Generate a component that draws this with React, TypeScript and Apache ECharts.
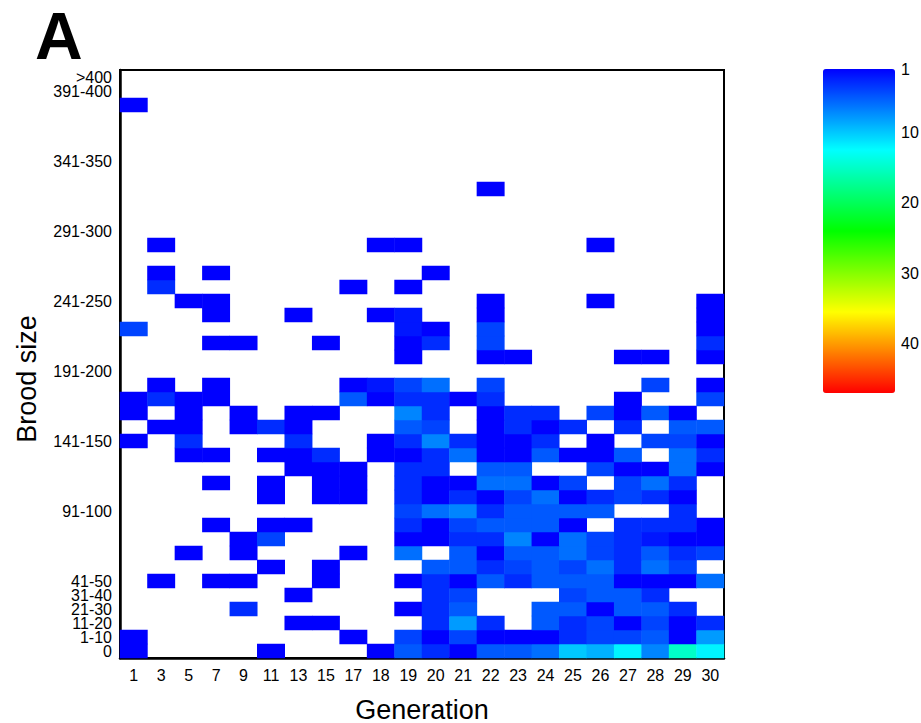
import React, { useEffect, useRef } from 'react';
import * as echarts from 'echarts';

// X categories (generations)
const generations = ['1', '3', '5', '7', '9', '11', '13', '15', '17', '18', '19', '20', '21', '22', '23', '24', '25', '26', '27', '28', '29', '30'];

// Y categories (brood size bins)
const broodBins: string[] = ['0'];
for (let i = 1; i <= 40; i++) broodBins.push(`${10 * (i - 1) + 1}-${10 * i}`);
broodBins.push('>400');
// labelled bins, split in two interleaved sets so that neighbouring labels never share an axis
const labelledBinsA = ['0', '11-20', '31-40', '91-100', '191-200', '291-300', '341-350', '>400'];
const labelledBinsB = ['1-10', '21-30', '41-50', '141-150', '241-250', '391-400'];

// colour-scale tick labels
const scaleTicks = [1, 10, 20, 30, 40];
const scaleMin = 1;
const scaleMax = 47;

// counts per brood-size bin: [generation, count]
const bin0 = [['1', 1], ['11', 1], ['18', 1], ['19', 5], ['20', 3], ['21', 1], ['22', 5], ['23', 5], ['24', 6], ['25', 10], ['26', 9], ['27', 12], ['28', 7], ['29', 15], ['30', 12]];
const bin1_10 = [['1', 1], ['17', 1], ['19', 4], ['20', 1], ['21', 4], ['22', 1], ['23', 1], ['24', 1], ['25', 3], ['26', 4], ['27', 4], ['28', 5], ['29', 1], ['30', 8]];
const bin11_20 = [['13', 1], ['15', 1], ['20', 3], ['21', 8], ['22', 3], ['24', 5], ['25', 3], ['26', 4], ['27', 1], ['28', 4], ['29', 1], ['30', 3]];
const bin21_30 = [['9', 3], ['19', 1], ['20', 3], ['21', 5], ['24', 5], ['25', 5], ['26', 1], ['27', 5], ['28', 5], ['29', 3]];
const bin31_40 = [['13', 1], ['20', 3], ['21', 4], ['25', 4], ['26', 5], ['27', 5], ['28', 3]];
const bin41_50 = [['3', 1], ['7', 1], ['9', 1], ['15', 1], ['19', 1], ['20', 3], ['21', 1], ['22', 5], ['23', 3], ['24', 5], ['25', 5], ['26', 5], ['27', 1], ['28', 1], ['29', 1], ['30', 6]];
const bin51_60 = [['11', 1], ['15', 1], ['20', 5], ['21', 5], ['22', 3], ['23', 4], ['24', 5], ['25', 4], ['26', 6], ['27', 3], ['28', 6], ['29', 4]];
const bin61_70 = [['5', 1], ['9', 1], ['17', 1], ['19', 6], ['21', 5], ['22', 1], ['23', 5], ['24', 5], ['25', 6], ['26', 4], ['27', 3], ['28', 5], ['29', 3], ['30', 4]];
const bin71_80 = [['9', 1], ['11', 4], ['19', 1], ['20', 1], ['21', 3], ['22', 3], ['23', 7], ['24', 1], ['25', 6], ['26', 4], ['27', 3], ['28', 2], ['29', 1], ['30', 1]];
const bin81_90 = [['7', 1], ['11', 1], ['13', 1], ['19', 3], ['20', 1], ['21', 4], ['22', 5], ['23', 5], ['24', 5], ['25', 1], ['27', 3], ['28', 3], ['29', 3], ['30', 1]];
const bin91_100 = [['19', 4], ['20', 6], ['21', 7], ['22', 3], ['23', 5], ['24', 5], ['25', 5], ['26', 5], ['29', 3]];
const bin101_110 = [['11', 1], ['15', 1], ['17', 1], ['19', 3], ['20', 1], ['21', 3], ['22', 1], ['23', 4], ['24', 6], ['25', 1], ['26', 3], ['27', 4], ['28', 3], ['29', 1]];
const bin111_120 = [['7', 1], ['11', 1], ['15', 1], ['17', 1], ['19', 3], ['20', 1], ['21', 1], ['22', 6], ['23', 6], ['24', 1], ['25', 4], ['27', 4], ['28', 6], ['29', 3]];
const bin121_130 = [['13', 1], ['15', 1], ['17', 1], ['19', 3], ['20', 3], ['22', 5], ['23', 5], ['26', 4], ['27', 1], ['28', 1], ['29', 6], ['30', 1]];
const bin131_140 = [['5', 1], ['7', 1], ['11', 1], ['13', 1], ['15', 3], ['18', 1], ['19', 1], ['20', 3], ['21', 6], ['22', 1], ['23', 1], ['24', 5], ['25', 1], ['26', 1], ['27', 5], ['29', 6], ['30', 3]];
const bin141_150 = [['1', 1], ['5', 3], ['13', 3], ['18', 1], ['19', 3], ['20', 7], ['21', 3], ['22', 1], ['23', 1], ['24', 3], ['26', 1], ['28', 4], ['29', 4], ['30', 1]];
const bin151_160 = [['3', 1], ['5', 1], ['9', 1], ['11', 3], ['13', 1], ['19', 5], ['20', 4], ['22', 1], ['23', 3], ['24', 1], ['25', 3], ['27', 3], ['29', 5], ['30', 5]];
const bin161_170 = [['1', 1], ['5', 1], ['9', 1], ['13', 1], ['15', 1], ['19', 7], ['20', 3], ['22', 1], ['23', 3], ['24', 3], ['26', 4], ['27', 1], ['28', 5], ['29', 1]];
const bin171_180 = [['1', 1], ['3', 3], ['5', 1], ['7', 1], ['17', 5], ['18', 1], ['19', 3], ['20', 3], ['21', 1], ['22', 3], ['27', 1], ['30', 4]];
const bin181_190 = [['3', 1], ['7', 1], ['17', 1], ['18', 2], ['19', 4], ['20', 6], ['22', 4], ['28', 4], ['30', 1]];
const bin201_210 = [['19', 1], ['22', 1], ['23', 1], ['27', 1], ['28', 1], ['30', 1]];
const bin211_220 = [['7', 1], ['9', 1], ['15', 1], ['19', 1], ['20', 3], ['22', 4], ['30', 3]];
const bin221_230 = [['1', 4], ['19', 2], ['20', 1], ['22', 4], ['30', 1]];
const bin231_240 = [['7', 1], ['13', 1], ['18', 1], ['19', 2], ['22', 1], ['30', 1]];
const bin241_250 = [['5', 1], ['7', 1], ['22', 1], ['26', 1], ['30', 1]];
const bin251_260 = [['3', 3], ['17', 1], ['19', 1]];
const bin261_270 = [['3', 1], ['7', 1], ['20', 1]];
const bin281_290 = [['3', 1], ['18', 1], ['19', 1], ['26', 1]];
const bin321_330 = [['22', 1]];
const bin381_390 = [['1', 1]];

const rows: [string, (string | number)[][]][] = [
  ['0', bin0], ['1-10', bin1_10], ['11-20', bin11_20], ['21-30', bin21_30], ['31-40', bin31_40],
  ['41-50', bin41_50], ['51-60', bin51_60], ['61-70', bin61_70], ['71-80', bin71_80], ['81-90', bin81_90],
  ['91-100', bin91_100], ['101-110', bin101_110], ['111-120', bin111_120], ['121-130', bin121_130],
  ['131-140', bin131_140], ['141-150', bin141_150], ['151-160', bin151_160], ['161-170', bin161_170],
  ['171-180', bin171_180], ['181-190', bin181_190], ['201-210', bin201_210], ['211-220', bin211_220],
  ['221-230', bin221_230], ['231-240', bin231_240], ['241-250', bin241_250], ['251-260', bin251_260],
  ['261-270', bin261_270], ['281-290', bin281_290], ['321-330', bin321_330], ['381-390', bin381_390],
];

const FONT = 'Liberation Sans, Arial, Helvetica, sans-serif';

const yLabelStyle = { fontSize: 16, color: '#000', margin: 8, fontFamily: FONT, showMinLabel: true, showMaxLabel: true, hideOverlap: false };

export default function App() {
  const ref = useRef<HTMLDivElement>(null);
  useEffect(() => {
    document.body.style.margin = '0';
    const chart = echarts.init(ref.current!, null, { renderer: 'svg' });
    const data: number[][] = [];
    rows.forEach(([bin, cells]) => {
      const yi = broodBins.indexOf(bin);
      cells.forEach(([g, v]) => {
        data.push([generations.indexOf(g as string), yi, v as number]);
      });
    });
    chart.setOption({
      animation: false,
      backgroundColor: '#fff',
      textStyle: { fontFamily: FONT },
      title: {
        text: 'A',
        left: 30,
        top: 8,
        textStyle: { fontSize: 66, lineHeight: 46, fontWeight: 'bold', color: '#000', fontFamily: FONT },
      },
      grid: [
        { left: 120, top: 70, width: 604, height: 588, show: true, borderColor: '#000', borderWidth: 2, backgroundColor: '#fff', outerBoundsMode: 'none', containLabel: false },
        { left: 823, top: 69, width: 72, height: 324, show: false, outerBoundsMode: 'none', containLabel: false },
      ],
      xAxis: [
        {
          type: 'category',
          gridIndex: 0,
          data: generations,
          name: 'Generation',
          nameLocation: 'middle',
          nameGap: 38,
          nameTextStyle: { fontSize: 27, color: '#000', fontFamily: FONT },
          axisLine: { lineStyle: { color: '#000', width: 2.5 } },
          axisTick: { alignWithLabel: true, interval: 0, length: 6, lineStyle: { color: '#000', width: 1.5 } },
          axisLabel: { interval: 0, fontSize: 16, color: '#000', margin: 9, fontFamily: FONT },
          splitLine: { show: false },
        },
        { type: 'value', gridIndex: 1, show: false, min: 0, max: 1 },
      ],
      yAxis: [
        {
          type: 'category',
          gridIndex: 0,
          position: 'left',
          data: broodBins,
          name: 'Brood size',
          nameLocation: 'middle',
          nameGap: 80,
          nameRotate: 90,
          nameTextStyle: { fontSize: 27, color: '#000', fontFamily: FONT, padding: [0, 30, 0, 0] },
          axisLine: { lineStyle: { color: '#000', width: 2.5 } },
          axisTick: { alignWithLabel: true, interval: 0, length: 6, lineStyle: { color: '#000', width: 1.5 } },
          axisLabel: { ...yLabelStyle, interval: (index: number, value: string) => labelledBinsA.includes(value) },
          splitLine: { show: false },
        },
        {
          type: 'category',
          gridIndex: 0,
          position: 'left',
          offset: 0,
          data: broodBins,
          axisLine: { show: false },
          axisTick: { show: false },
          axisLabel: { ...yLabelStyle, interval: (index: number, value: string) => labelledBinsB.includes(value) },
          splitLine: { show: false },
        },
        {
          type: 'value',
          gridIndex: 1,
          min: scaleMin,
          max: scaleMax,
          inverse: true,
          position: 'right',
          axisLine: { show: false },
          axisTick: { show: false },
          splitLine: { show: false },
          axisLabel: { customValues: scaleTicks, fontSize: 16, color: '#000', margin: 6, fontFamily: FONT },
        },
      ],
      visualMap: {
        type: 'continuous',
        seriesIndex: 0,
        dimension: 2,
        min: scaleMin,
        max: scaleMax,
        inverse: true,
        calculable: false,
        hoverLink: false,
        orient: 'vertical',
        left: 823,
        top: 69,
        padding: 0,
        itemWidth: 72,
        itemHeight: 324,
        text: null,
        inRange: { color: ['#0000ff', '#00ffff', '#00ff00', '#ffff00', '#ff0000'] },
      },
      series: [
        {
          type: 'heatmap',
          xAxisIndex: 0,
          yAxisIndex: 0,
          data,
          itemStyle: { borderWidth: 0 },
          emphasis: { disabled: true },
        },
      ],
    });
    return () => chart.dispose();
  }, []);
  return <div ref={ref} style={{ width: 921, height: 723 }} />;
}
